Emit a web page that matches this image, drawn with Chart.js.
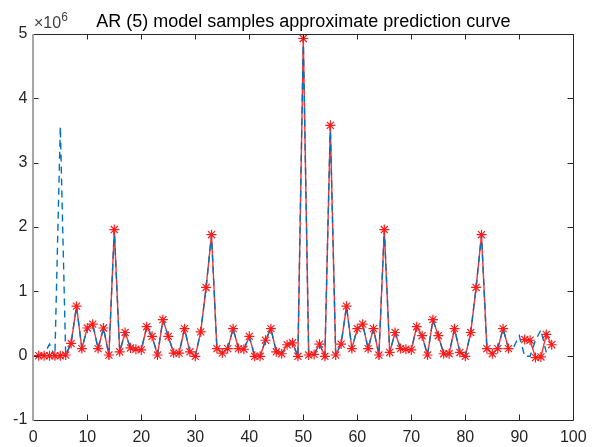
<!DOCTYPE html>
<html>
<head>
<meta charset="utf-8">
<script src="https://cdn.jsdelivr.net/npm/chart.js@4.4.0/dist/chart.umd.min.js"></script>
<style>
  html, body { margin: 0; padding: 0; background: #fff; }
  #wrap { width: 597px; height: 447px; }
</style>
</head>
<body>
<div id="wrap"><canvas id="arChart" width="597" height="447"></canvas></div>
<script>
// sample number (x axis)
var sampleIndex = [
  1, 2, 3, 4, 5, 6, 7, 8, 9, 10, 11, 12, 13, 14, 15, 16, 17, 18, 19, 20,
  21, 22, 23, 24, 25, 26, 27, 28, 29, 30, 31, 32, 33, 34, 35, 36, 37, 38, 39, 40,
  41, 42, 43, 44, 45, 46, 47, 48, 49, 50, 51, 52, 53, 54, 55, 56, 57, 58, 59, 60,
  61, 62, 63, 64, 65, 66, 67, 68, 69, 70, 71, 72, 73, 74, 75, 76, 77, 78, 79, 80,
  81, 82, 83, 84, 85, 86, 87, 88, 89, 90, 91, 92, 93, 94, 95, 96
];

// measured samples, in units of 10^6
var samples = [
  0, 0, 0, 0, 0, 0.01, 0.19, 0.77, 0.11, 0.43, 0.49, 0.11, 0.43, 0.01, 1.96, 0.06, 0.36, 0.12, 0.10, 0.09,
  0.45, 0.30, 0.01, 0.56, 0.30, 0.04, 0.04, 0.42, 0.06, -0.01, 0.37, 1.06, 1.88, 0.11, 0.04, 0.11, 0.42, 0.11, 0.10, 0.30,
  -0.01, -0.01, 0.24, 0.42, 0.06, 0.03, 0.17, 0.20, -0.01, 4.93, 0.01, 0.02, 0.18, -0.01, 3.58, 0.01, 0.18, 0.77, 0.11, 0.42,
  0.49, 0.11, 0.42, 0.01, 1.96, 0.05, 0.36, 0.11, 0.10, 0.09, 0.45, 0.31, 0.01, 0.56, 0.31, 0.03, 0.03, 0.42, 0.05, -0.01,
  0.36, 1.06, 1.88, 0.11, 0.03, 0.11, 0.42, 0.11, null, null, 0.25, 0.24, -0.03, -0.02, 0.33, 0.17
];

// AR(5) prediction, in units of 10^6
var prediction = [
  0.01, 0.02, 0.18, -0.01, 3.56, 0.01, 0.19, 0.77, 0.11, 0.43, 0.49, 0.11, 0.43, 0.01, 1.96, 0.06, 0.36, 0.12, 0.10, 0.09,
  0.45, 0.30, 0.01, 0.56, 0.30, 0.04, 0.04, 0.42, 0.06, -0.01, 0.37, 1.06, 1.88, 0.11, 0.04, 0.11, 0.42, 0.11, 0.10, 0.30,
  -0.01, -0.01, 0.24, 0.42, 0.06, 0.03, 0.17, 0.20, -0.01, 4.93, 0.01, 0.02, 0.18, -0.01, 3.58, 0.01, 0.18, 0.77, 0.11, 0.42,
  0.49, 0.11, 0.42, 0.01, 1.96, 0.05, 0.36, 0.11, 0.10, 0.09, 0.45, 0.31, 0.01, 0.56, 0.31, 0.03, 0.03, 0.42, 0.05, -0.01,
  0.36, 1.06, 1.88, 0.11, 0.03, 0.11, 0.42, 0.11, 0.14, 0.31, -0.01, -0.01, 0.24, 0.40, 0.05, null
];

var xTicks = [0, 10, 20, 30, 40, 50, 60, 70, 80, 90, 100];
var yTicks = [-1, 0, 1, 2, 3, 4, 5];
var titleText = 'AR (5) model samples approximate prediction curve';
var exponentBase = '\u00d710';
var exponentPower = '6';

var FONT = "'Liberation Sans', Arial, Helvetica, sans-serif";

function toPoints(values) {
  return sampleIndex.map(function (x, i) {
    return { x: x, y: values[i] };
  });
}

// box around the axes, inward ticks on all four sides, x10^6 label
var matlabAxes = {
  id: 'matlabAxes',
  afterDraw: function (chart) {
    var ctx = chart.ctx;
    var a = chart.chartArea;
    var xs = chart.scales.x;
    var ys = chart.scales.y;
    var L = Math.round(a.left), R = Math.round(a.right);
    var T = Math.round(a.top), B = Math.round(a.bottom);
    var tl = 5.5;

    ctx.save();
    ctx.strokeStyle = '#262626';
    ctx.lineWidth = 1;
    ctx.beginPath();
    ctx.moveTo(L, T + 0.5); ctx.lineTo(R + 0.5, T + 0.5);
    ctx.lineTo(R + 0.5, B + 0.5); ctx.lineTo(L, B + 0.5);
    xTicks.forEach(function (v) {
      var px = Math.round(xs.getPixelForValue(v)) + 0.5;
      ctx.moveTo(px, B); ctx.lineTo(px, B - tl);
      ctx.moveTo(px, T); ctx.lineTo(px, T + tl);
    });
    yTicks.forEach(function (v) {
      var py = Math.round(ys.getPixelForValue(v)) + 0.5;
      ctx.moveTo(L, py); ctx.lineTo(L + tl, py);
      ctx.moveTo(R, py); ctx.lineTo(R - tl, py);
    });
    ctx.stroke();

    ctx.strokeStyle = '#a6a6a6';
    ctx.lineWidth = 2;
    ctx.beginPath();
    ctx.moveTo(L, T); ctx.lineTo(L, B + 1);
    ctx.stroke();

    ctx.fillStyle = '#404040';
    ctx.textBaseline = 'alphabetic';
    ctx.textAlign = 'left';
    ctx.font = '16px ' + FONT;
    ctx.fillText(exponentBase, L + 1, 28);
    var w = ctx.measureText(exponentBase).width;
    ctx.font = '12px ' + FONT;
    ctx.fillText(exponentPower, L + 1 + w, 21);
    ctx.restore();
  }
};

var ctx = document.getElementById('arChart').getContext('2d');
var arChart = new Chart(ctx, {
  type: 'line',
  data: {
    datasets: [
      {
        label: 'samples (markers)',
        data: toPoints(samples),
        showLine: false,
        pointStyle: 'star',
        pointRadius: 5,
        pointBorderWidth: 1.2,
        pointBorderColor: '#ff1a1a',
        pointBackgroundColor: '#ff1a1a',
        order: 0
      },
      {
        label: 'prediction',
        data: toPoints(prediction),
        borderColor: '#0072bd',
        borderWidth: 1.4,
        borderDash: [7, 5],
        pointRadius: 0,
        tension: 0,
        order: 1
      },
      {
        label: 'samples',
        data: toPoints(samples),
        borderColor: '#ff3030',
        borderWidth: 1.4,
        pointRadius: 0,
        tension: 0,
        spanGaps: false,
        order: 2
      }
    ]
  },
  options: {
    responsive: false,
    animation: false,
    devicePixelRatio: 1,
    layout: { padding: { top: 0, right: 23.7, bottom: 0, left: 0 } },
    plugins: {
      legend: { display: false },
      tooltip: { enabled: false },
      title: {
        display: true,
        text: titleText,
        fullSize: false,
        color: '#000',
        font: { family: FONT, size: 18, weight: 'normal', lineHeight: 1.2 },
        padding: { top: 11, bottom: 1.4 }
      }
    },
    scales: {
      x: {
        type: 'linear',
        min: 0,
        max: 100,
        afterBuildTicks: function (scale) {
          scale.ticks = xTicks.map(function (v) { return { value: v }; });
        },
        afterFit: function (scale) { scale.height = 27; },
        grid: { display: false, drawTicks: false },
        border: { display: false },
        ticks: {
          color: '#262626',
          padding: 8,
          maxRotation: 0,
          font: { family: FONT, size: 16 }
        }
      },
      y: {
        type: 'linear',
        min: -1,
        max: 5,
        afterBuildTicks: function (scale) {
          scale.ticks = yTicks.map(function (v) { return { value: v }; });
        },
        afterFit: function (scale) { scale.width = 33.3; },
        grid: { display: false, drawTicks: false },
        border: { display: false },
        ticks: {
          color: '#262626',
          padding: 6,
          font: { family: FONT, size: 16 }
        }
      }
    }
  },
  plugins: [matlabAxes]
});
</script>
</body>
</html>
